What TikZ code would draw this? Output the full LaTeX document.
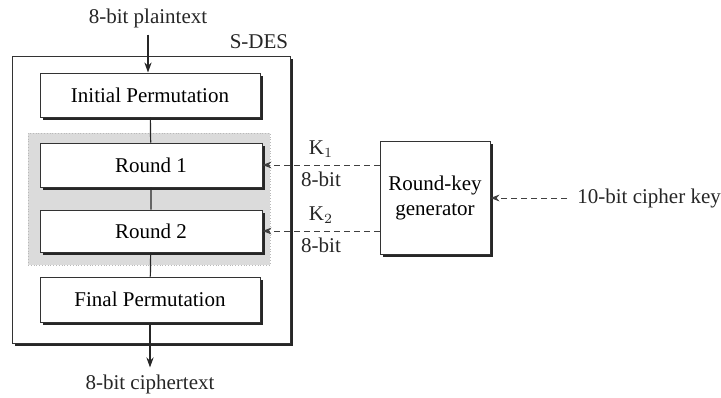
\documentclass[tikz,border=0pt]{standalone}
\usepackage{fontspec}
\setmainfont{Liberation Serif}
\usetikzlibrary{arrows.meta,positioning,shadows}
\tikzset{
  stagebox/.style={draw=black!80,fill=white,line width=0.5pt,inner sep=0pt,
    drop shadow={shadow xshift=1.3pt,shadow yshift=-1.3pt,fill=black!85,opacity=1}},
  flowarrow/.style={-{Stealth[length=5pt,width=3.6pt]},line width=0.6pt,black!85},
  keyarrow/.style={-{Stealth[length=4.5pt,width=3.4pt]},densely dashed,line width=0.5pt,black!75},
  lbl/.style={font=\fontsize{10.5}{12.5}\selectfont,text=black!85}
}
\begin{document}
\begin{tikzpicture}[x=0.5pt,y=-0.5pt,font=\fontsize{10.5}{12.5}\selectfont]
\useasboundingbox[fill=white] (0,0) rectangle (721,397);
\node[stagebox,minimum width=139pt,minimum height=143.5pt] (sdes) at (151,199.5) {};
\node[lbl,anchor=south east,inner sep=1pt] (sdeslbl) at ([yshift=2pt]sdes.north east) {S-DES};
\node[draw=gray!55,densely dotted,fill=gray!28,minimum width=121pt,minimum height=66pt,inner sep=0pt] (rounds) at (149,199) {};
\node[stagebox,minimum width=110pt,minimum height=22pt] (ip) at (150,95) {Initial Permutation};
\node[stagebox,minimum width=111pt,minimum height=22pt] (r1) at (151,165) {Round 1};
\node[stagebox,minimum width=111pt,minimum height=21pt] (r2) at (151,231) {Round 2};
\node[stagebox,minimum width=110pt,minimum height=22.5pt] (fp) at (150,299.5) {Final Permutation};
\node[stagebox,minimum width=55pt,minimum height=56.5pt,align=center] (rkg) at (435,197.5) {Round-key\\generator};
\node[lbl] (plain) at (148,18) {8-bit plaintext};
\node[lbl] (cipher) at (150,384) {8-bit ciphertext};
\node[lbl,anchor=west,inner sep=5pt] (ckey) at (567,198) {10-bit cipher key};
\draw[flowarrow] (plain) -- (ip.north -| plain);
\draw[line width=0.6pt,black!85] (ip) -- (r1) (r1) -- (r2) (r2) -- (fp);
\draw[flowarrow] (fp) -- (cipher);
\draw[keyarrow] (rkg.west |- r1.east) -- (r1.east) node[midway,above=0pt,lbl] {K$_1$} node[midway,below=0pt,lbl] {8-bit};
\draw[keyarrow] (rkg.west |- r2.east) -- (r2.east) node[midway,above=0pt,lbl] {K$_2$} node[midway,below=0pt,lbl] {8-bit};
\draw[keyarrow] (ckey) -- (rkg.east |- ckey);
\end{tikzpicture}
\end{document}
